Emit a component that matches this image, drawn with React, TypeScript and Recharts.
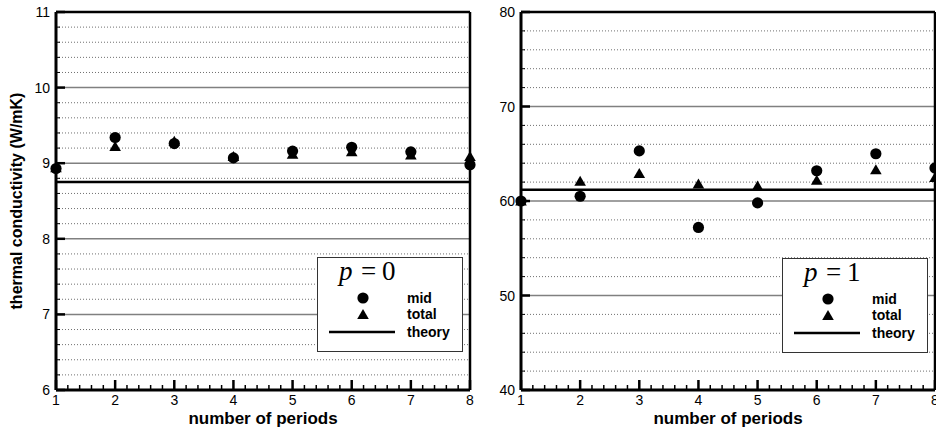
import React from 'react';
import { ScatterChart, Scatter, XAxis, YAxis, ReferenceLine } from 'recharts';

// ---------- data ----------
const periods = [1, 2, 3, 4, 5, 6, 7, 8];

const midP0 = [8.93, 9.34, 9.26, 9.07, 9.16, 9.21, 9.15, 8.98];
const totalP0 = [8.94, 9.22, 9.29, 9.09, 9.12, 9.15, 9.11, 9.09];
const theoryP0 = 8.75;

const midP1 = [60.0, 60.5, 65.3, 57.2, 59.8, 63.2, 65.0, 63.5];
const totalP1 = [60.0, 62.1, 62.9, 61.8, 61.6, 62.2, 63.3, 62.5];
const theoryP1 = 61.2;

const xMajorTicks = [1, 2, 3, 4, 5, 6, 7, 8];
const yMajorTicksP0 = [6, 7, 8, 9, 10, 11];
const yMajorTicksP1 = [40, 50, 60, 70, 80];

const seriesNames = ['mid', 'total', 'theory'];

// ---------- helpers ----------
const FONT = '"Liberation Sans", Arial, Helvetica, sans-serif';
const SERIF = '"Liberation Serif", "Times New Roman", serif';

function withMinor(majors: number[], sub: number): number[] {
  const out: number[] = [];
  for (let i = 0; i < majors.length; i++) {
    out.push(majors[i]);
    if (i < majors.length - 1) {
      const step = (majors[i + 1] - majors[i]) / sub;
      for (let k = 1; k < sub; k++) out.push(+(majors[i] + k * step).toFixed(6));
    }
  }
  return out;
}

const isMajor = (v: number, majors: number[]) => majors.some((m) => Math.abs(m - v) < 1e-6);

const makeXTick = (majors: number[]) => (props: any) => {
  const { x, y, payload } = props;
  const v = payload.value;
  const major = isMajor(v, majors);
  return (
    <g>
      <line x1={x} y1={y} x2={x} y2={y - (major ? 10 : 5)} stroke="#000" strokeWidth={major ? 2.5 : 1.5} />
      {major && (
        <text x={x} y={y + 15} textAnchor="middle" fontSize={14} fontFamily={FONT} fill="#000">
          {Math.round(v)}
        </text>
      )}
    </g>
  );
};

const makeYTick = (majors: number[]) => (props: any) => {
  const { x, y, payload } = props;
  const v = payload.value;
  const major = isMajor(v, majors);
  return (
    <g>
      <line x1={x} y1={y} x2={x + (major ? 9 : 4)} y2={y} stroke="#000" strokeWidth={major ? 2.5 : 1} />
      {major && (
        <text x={x - 6} y={y + 5} textAnchor="end" fontSize={14} fontFamily={FONT} fill="#000">
          {Math.round(v)}
        </text>
      )}
    </g>
  );
};

const CircleShape = (props: any) => <circle cx={props.cx} cy={props.cy} r={5.6} fill="#000" />;
const TriangleShape = (props: any) => {
  const { cx, cy } = props;
  return <polygon points={`${cx},${cy - 5.5} ${cx - 5.8},${cy + 4.5} ${cx + 5.8},${cy + 4.5}`} fill="#000" />;
};

function LegendBox({ left, top, p }: { left: number; top: number; p: number }) {
  return (
    <svg width={147} height={96} style={{ position: 'absolute', left: left - 0.5, top: top - 0.5 }}>
      <rect x={0.5} y={0.5} width={145} height={94} fill="#fff" stroke="#333" strokeWidth={1} />
      <text x={22} y={23} fontFamily={SERIF} fontSize={27} fontStyle="italic">p</text>
      <text x={44} y={23} fontFamily={SERIF} fontSize={27}>=</text>
      <text x={65} y={23} fontFamily={SERIF} fontSize={27}>{p}</text>
      <circle cx={46} cy={41} r={5.6} fill="#000" />
      <polygon points="46,52 40.2,62 51.8,62" fill="#000" />
      <line x1={12} y1={75} x2={78} y2={75} stroke="#000" strokeWidth={2.5} />
      {seriesNames.map((n, i) => (
        <text key={n} x={90} y={[46, 62, 80][i]} fontFamily={FONT} fontWeight="bold" fontSize={14} fill="#000">
          {n}
        </text>
      ))}
    </svg>
  );
}

type PanelProps = {
  mid: number[];
  total: number[];
  theory: number;
  yMajors: number[];
  showYLabel: boolean;
  width: number;
  marginRight: number;
};

function Panel({ mid, total, theory, yMajors, showYLabel, width, marginRight }: PanelProps) {
  const xTicks = withMinor(xMajorTicks, 5);
  const yTicks = withMinor(yMajors, 5);
  const yMinorOnly = yTicks.filter((v) => !isMajor(v, yMajors));
  const midData = periods.map((x, i) => ({ x, y: mid[i] }));
  const totalData = periods.map((x, i) => ({ x, y: total[i] }));
  const xMin = xMajorTicks[0];
  const xMax = xMajorTicks[xMajorTicks.length - 1];
  const yMin = yMajors[0];
  const yMax = yMajors[yMajors.length - 1];
  return (
    <ScatterChart width={width} height={430} margin={{ top: 12, right: marginRight, bottom: 0, left: 0 }}>
      <XAxis
        type="number"
        dataKey="x"
        domain={[xMin, xMax]}
        ticks={xTicks}
        interval={0}
        axisLine={false}
        tickLine={false}
        tickSize={0}
        tickMargin={0}
        height={40}
        tick={makeXTick(xMajorTicks)}
        label={{
          content: (lp: any) => {
            const vb = lp.viewBox;
            return (
              <text x={vb.x + vb.width / 2} y={424} textAnchor="middle" fontFamily={FONT} fontWeight="bold" fontSize={17} fill="#000">
                number of periods
              </text>
            );
          },
        }}
      />
      <YAxis
        type="number"
        dataKey="y"
        domain={[yMin, yMax]}
        ticks={yTicks}
        interval={0}
        axisLine={false}
        tickLine={false}
        tickSize={0}
        tickMargin={0}
        width={56}
        tick={makeYTick(yMajors)}
        label={
          showYLabel
            ? {
                content: (lp: any) => {
                  const vb = lp.viewBox;
                  const cy = vb.y + vb.height / 2;
                  return (
                    <text
                      x={22}
                      y={cy}
                      transform={`rotate(-90, 22, ${cy})`}
                      textAnchor="middle"
                      fontFamily={FONT}
                      fontWeight="bold"
                      fontSize={16}
                      fill="#000"
                    >
                      thermal conductivity (W/mK)
                    </text>
                  );
                },
              }
            : undefined
        }
      />
      {yMinorOnly.map((v) => (
        <ReferenceLine key={`mn${v}`} y={v} stroke="#707070" strokeWidth={1} strokeDasharray="1 2" />
      ))}
      {yMajors.slice(1, -1).map((v) => (
        <ReferenceLine key={`mj${v}`} y={v} stroke="#808080" strokeWidth={1.5} />
      ))}
      <ReferenceLine y={theory} stroke="#000" strokeWidth={2.5} />
      <ReferenceLine x={xMin} stroke="#000" strokeWidth={3} />
      <ReferenceLine x={xMax} stroke="#000" strokeWidth={2.5} />
      <ReferenceLine y={yMin} stroke="#000" strokeWidth={3} />
      <ReferenceLine y={yMax} stroke="#000" strokeWidth={2.5} />
      <Scatter name="mid" data={midData} shape={CircleShape} isAnimationActive={false} />
      <Scatter name="total" data={totalData} shape={TriangleShape} isAnimationActive={false} />
    </ScatterChart>
  );
}

export default function App() {
  return (
    <div style={{ position: 'absolute', left: 0, top: 0, width: 936, height: 430, background: '#fff', overflow: 'hidden' }}>
      <div style={{ position: 'absolute', left: 0, top: 0 }}>
        <Panel mid={midP0} total={totalP0} theory={theoryP0} yMajors={yMajorTicksP0} showYLabel width={480} marginRight={10} />
      </div>
      <div style={{ position: 'absolute', left: 465, top: 0 }}>
        <Panel mid={midP1} total={totalP1} theory={theoryP1} yMajors={yMajorTicksP1} showYLabel={false} width={471} marginRight={1} />
      </div>
      <LegendBox left={317} top={257} p={0} />
      <LegendBox left={782} top={258} p={1} />
    </div>
  );
}
